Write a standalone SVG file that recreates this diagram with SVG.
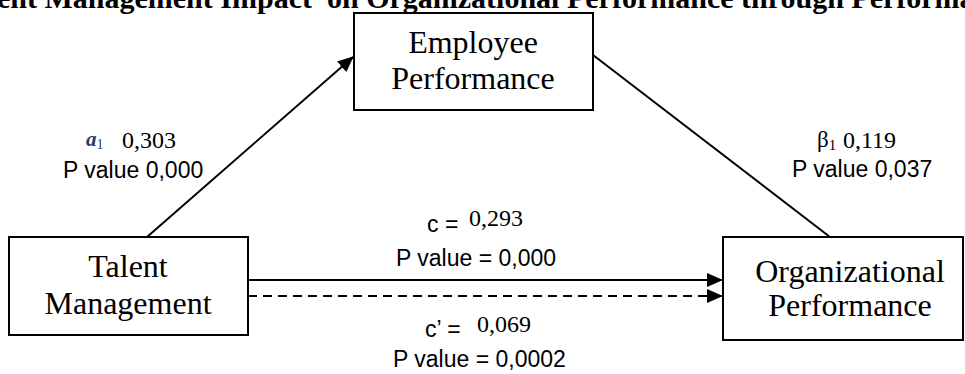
<svg xmlns="http://www.w3.org/2000/svg" width="965" height="374" viewBox="0 0 965 374">
<style>
.box{fill:#fff;stroke:#000;stroke-width:2}
.node{font-family:"Liberation Serif","Times New Roman",serif;font-size:32px;fill:#000;text-anchor:middle}
.title{font-family:"Liberation Serif","Times New Roman",serif;font-size:30px;font-weight:bold;fill:#000;white-space:pre}
.sans{font-family:"Liberation Sans",Arial,sans-serif;font-size:23px;fill:#000}
.ser{font-family:"Liberation Serif","Times New Roman",serif;font-size:24px;fill:#000}
.edge{stroke:#000;stroke-width:2;fill:none}
.dash{stroke-dasharray:9 6}
</style>
<defs>
<marker id="ah" markerWidth="16" markerHeight="14" refX="15" refY="7" orient="auto" markerUnits="userSpaceOnUse">
<path d="M0,0 L16,7 L0,14 Z" fill="#000"/>
</marker>
</defs>
<rect width="965" height="374" fill="#fff"/>
<text class="title" x="-3" y="8">ent Management Impact  on Organizational Performance through Performa</text>

<g id="connectors">
<line class="edge" x1="147" y1="237" x2="353" y2="57" marker-end="url(#ah)"/>
<line class="edge" x1="593" y1="55" x2="830" y2="237"/>
<line class="edge" x1="248" y1="280" x2="722" y2="280" marker-end="url(#ah)"/>
<line class="edge dash" x1="248" y1="296" x2="722" y2="296" marker-end="url(#ah)"/>
</g>

<g id="employee-performance">
<rect class="box" x="354" y="13" width="239" height="97"/>
<text class="node" x="473" y="53">Employee</text>
<text class="node" x="473" y="89">Performance</text>
</g>

<g id="talent-management">
<rect class="box" x="9" y="237" width="239" height="98"/>
<text class="node" x="128" y="277">Talent</text>
<text class="node" x="128" y="314">Management</text>
</g>

<g id="organizational-performance">
<rect class="box" x="723" y="237" width="240" height="103"/>
<text class="node" x="850" y="282">Organizational</text>
<text class="node" x="850" y="316">Performance</text>
</g>

<g id="labels">
<text x="86" y="146" font-family="'Liberation Serif','Times New Roman',serif" font-style="italic" font-weight="bold" font-size="21" fill="#233a6b">a<tspan font-size="14" font-style="normal" font-weight="normal" dy="3">1</tspan></text>
<text class="ser" x="122" y="148">0,303</text>
<text class="sans" x="63" y="178">P value 0,000</text>

<text x="817" y="147" font-family="'Liberation Serif','Times New Roman',serif" font-size="23" fill="#000">β<tspan font-size="15" dy="3">1</tspan></text>
<text class="ser" x="843" y="148">0,119</text>
<text class="sans" x="792" y="177">P value 0,037</text>

<text class="sans" x="427" y="232">c =</text>
<text class="ser" x="469" y="226">0,293</text>
<text class="sans" x="396" y="266">P value = 0,000</text>

<text class="sans" x="425" y="337">c’ =</text>
<text class="ser" x="477" y="332">0,069</text>
<text class="sans" x="393" y="367">P value = 0,0002</text>
</g>
</svg>
